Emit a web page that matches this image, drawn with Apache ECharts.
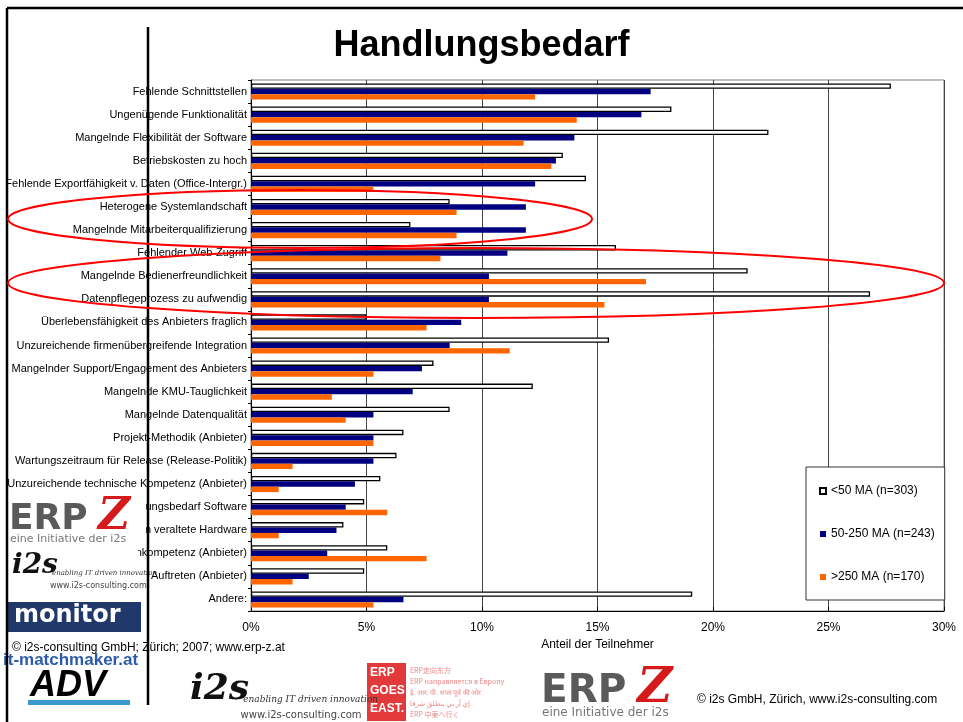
<!DOCTYPE html>
<html>
<head>
<meta charset="utf-8">
<script src="https://cdn.jsdelivr.net/npm/echarts@6/dist/echarts.min.js"></script>
<style>html,body{margin:0;padding:0;background:#fff}#c{width:963px;height:722px}</style>
</head>
<body>
<div id="c"></div>
<script>
var categories = [
  "Fehlende Schnittstellen",
  "Ungenügende Funktionalität",
  "Mangelnde Flexibilität der Software",
  "Betriebskosten zu hoch",
  "Fehlende Exportfähigkeit v. Daten (Office-Intergr.)",
  "Heterogene Systemlandschaft",
  "Mangelnde Mitarbeiterqualifizierung",
  "Fehlender Web-Zugriff",
  "Mangelnde Bedienerfreundlichkeit",
  "Datenpflegeprozess zu aufwendig",
  "Überlebensfähigkeit des Anbieters fraglich",
  "Unzureichende firmenübergreifende Integration",
  "Mangelnder Support/Engagement des Anbieters",
  "Mangelnde KMU-Tauglichkeit",
  "Mangelnde Datenqualität",
  "Projekt-Methodik (Anbieter)",
  "Wartungszeitraum für Release (Release-Politik)",
  "Unzureichende technische Kompetenz (Anbieter)",
  "Anpassungsbedarf Software",
  "Bindung an veraltete Hardware",
  "Branchenkompetenz (Anbieter)",
  "Auftreten (Anbieter)",
  "Andere:"
];
var seriesNames = ["<50 MA (n=303)", "50-250 MA (n=243)", ">250 MA (n=170)"];
var small = [27.7, 18.2, 22.4, 13.5, 14.5, 8.6, 6.9, 15.8, 21.5, 26.8, 5.0, 15.5, 7.9, 12.2, 8.6, 6.6, 6.3, 5.6, 4.9, 4.0, 5.9, 4.9, 19.1];
var mid   = [17.3, 16.9, 14.0, 13.2, 12.3, 11.9, 11.9, 11.1, 10.3, 10.3, 9.1, 8.6, 7.4, 7.0, 5.3, 5.3, 5.3, 4.5, 4.1, 3.7, 3.3, 2.5, 6.6];
var large = [12.3, 14.1, 11.8, 13.0, 5.3, 8.9, 8.9, 8.2, 17.1, 15.3, 7.6, 11.2, 5.3, 3.5, 4.1, 5.3, 1.8, 1.2, 5.9, 1.2, 7.6, 1.8, 5.3];
var xTicks = { min: 0, max: 30, interval: 5 };
var titleText = "Handlungsbedarf";
var axisName = "Anteil der Teilnehmer";
var footer1 = "© i2s-consulting GmbH; Zürich; 2007; www.erp-z.at";
var footer2 = "© i2s GmbH, Zürich, www.i2s-consulting.com";

var FF = 'Arial, "Liberation Sans", sans-serif';
var chart = echarts.init(document.getElementById('c'), null, {renderer: 'canvas'});

function erpz(x, y, s) {
  return [
    {type: 'rect', shape: {x: x, y: y, width: 138 * s, height: 48 * s}, style: {fill: '#fff'}, z: 50},
    {type: 'text', x: x + 1, y: y + 4 * s, style: {text: 'ERP', font: 'bold ' + Math.round(36 * s) + 'px "DejaVu Sans"', fill: '#5a5a5a'}, z: 51},
    {type: 'text', x: x + 90 * s, y: y - 2 * s, style: {text: 'Z', font: 'italic bold ' + Math.round(44 * s) + 'px "DejaVu Serif"', fill: '#d41a1a'}, z: 51},
    {type: 'text', x: x + 2, y: y + 36 * s, style: {text: 'eine Initiative der i2s', font: Math.round(11 * s) + 'px "DejaVu Sans"', fill: '#777'}, z: 51}
  ];
}
function i2s(x, y, s) {
  return [
    {type: 'rect', shape: {x: x, y: y, width: 130 * s, height: 54 * s}, style: {fill: '#fff'}, z: 50},
    {type: 'text', x: x + 4, y: y + 6 * s, style: {text: 'i2s', font: 'italic bold ' + Math.round(28 * s) + 'px "DejaVu Serif"', fill: '#111'}, z: 51},
    {type: 'text', x: x + 44 * s, y: y + 24 * s, style: {text: 'enabling IT driven innovation', font: 'italic ' + Math.round(7 * s) + 'px "DejaVu Serif"', fill: '#333'}, z: 51},
    {type: 'text', x: x + 42 * s, y: y + 36 * s, style: {text: 'www.i2s-consulting.com', font: Math.round(8 * s) + 'px "DejaVu Sans"', fill: '#444'}, z: 51}
  ];
}

var graphics = [
  {type: 'line', shape: {x1: 7, y1: 8, x2: 963, y2: 8}, style: {stroke: '#000', lineWidth: 2.5}, z: 60},
  {type: 'line', shape: {x1: 7, y1: 8, x2: 7, y2: 722}, style: {stroke: '#000', lineWidth: 2.5}, z: 60},
  {type: 'line', shape: {x1: 148, y1: 27, x2: 148, y2: 705}, style: {stroke: '#000', lineWidth: 2.5}, z: 60},
  {type: 'ellipse', shape: {cx: 300, cy: 219, rx: 292, ry: 29}, style: {stroke: '#f00', fill: null, lineWidth: 2}, z: 70},
  {type: 'ellipse', shape: {cx: 476, cy: 283, rx: 468, ry: 35}, style: {stroke: '#f00', fill: null, lineWidth: 2}, z: 70},
  {type: 'rect', shape: {x: 8, y: 602, width: 133, height: 30}, style: {fill: '#21386a'}, z: 50},
  {type: 'text', x: 14, y: 604, style: {text: 'monitor', font: 'bold 24px "DejaVu Sans"', fill: '#fff'}, z: 51},
  {type: 'text', x: 12, y: 642, style: {text: footer1, font: '12px ' + FF, fill: '#000'}, z: 52},
  {type: 'text', x: 3, y: 652, style: {text: 'it-matchmaker.at', font: 'bold 17px "Liberation Sans Narrow", "Liberation Sans"', fill: '#2b5cab'}, z: 52},
  {type: 'text', x: 30, y: 668, style: {text: 'ADV', font: 'italic bold 36px "Liberation Sans"', fill: '#000'}, z: 51},
  {type: 'rect', shape: {x: 28, y: 700, width: 102, height: 5}, style: {fill: '#3a9ad0'}, z: 51},
  {type: 'rect', shape: {x: 367, y: 663, width: 39, height: 58}, style: {fill: '#e23a3a'}, z: 50},
  {type: 'text', x: 370, y: 664, style: {text: 'ERP\nGOES\nEAST.', font: 'bold 12px "Liberation Sans Narrow", "Liberation Sans"', lineHeight: 18, fill: '#fff'}, z: 51},
  {type: 'text', x: 410, y: 665, style: {text: 'ERP走向东方\nERP направляется в Европу\nई. आर. पी. सफा पूर्व की ओर\nإي آر بي ينطلق شرقا\nERP 中東へ行く', font: '7px "Noto Sans CJK SC", "DejaVu Sans"', lineHeight: 11, fill: '#e88'}, z: 51},
  {type: 'text', x: 697, y: 694, style: {text: footer2, font: '12px ' + FF, fill: '#000'}, z: 52}
].concat(erpz(8, 498, 1)).concat(i2s(8, 546, 1)).concat(i2s(186, 664, 1.3)).concat(erpz(540, 668, 1.08));

var option = {
  backgroundColor: '#fff',
  animation: false,
  textStyle: {fontFamily: FF},
  title: {
    text: titleText, left: 'center', top: 28, padding: 0,
    textStyle: {fontSize: 36, fontWeight: 'bold', color: '#000', fontFamily: FF}
  },
  legend: {
    orient: 'vertical', left: 806, top: 467,
    width: 139, itemWidth: 6, itemHeight: 6, itemGap: 31,
    padding: [18, 10, 17, 13],
    backgroundColor: '#fff', borderColor: '#333', borderWidth: 1,
    icon: 'rect',
    textStyle: {fontSize: 12, color: '#000', fontFamily: FF, padding: [4, 0, 0, 0]},
    data: seriesNames
  },
  grid: {
    left: 251, right: 19, top: 80, bottom: 111,
    show: true, borderColor: '#808080', borderWidth: 1, backgroundColor: '#fff'
  },
  xAxis: {
    type: 'value', min: xTicks.min, max: xTicks.max, interval: xTicks.interval,
    name: axisName, nameLocation: 'middle', nameGap: 23,
    nameTextStyle: {fontSize: 12, color: '#000', fontFamily: FF},
    axisLine: {show: true, lineStyle: {color: '#000', width: 1}},
    axisTick: {show: true, length: 4, inside: true, lineStyle: {color: '#000'}},
    axisLabel: {formatter: '{value}%', fontSize: 12, color: '#000', margin: 11, fontFamily: FF},
    splitLine: {show: true, lineStyle: {color: '#444', width: 1}}
  },
  yAxis: {
    type: 'category', inverse: true, data: categories,
    axisLine: {show: true, lineStyle: {color: '#000', width: 1}},
    axisTick: {show: true, length: 3, lineStyle: {color: '#000'}},
    axisLabel: {fontSize: 11, color: '#000', margin: 4, interval: 0, fontFamily: FF},
    splitLine: {show: false}
  },
  series: [
    {name: seriesNames[0], type: 'bar', data: small, barGap: '0%', barCategoryGap: '30%',
     itemStyle: {color: '#fff', borderColor: '#000', borderWidth: 1.3}},
    {name: seriesNames[1], type: 'bar', data: mid, barGap: '0%', barCategoryGap: '30%',
     itemStyle: {color: '#000080'}},
    {name: seriesNames[2], type: 'bar', data: large, barGap: '0%', barCategoryGap: '30%',
     itemStyle: {color: '#ff6600'}}
  ],
  graphic: graphics
};
chart.setOption(option);
</script>
</body>
</html>
